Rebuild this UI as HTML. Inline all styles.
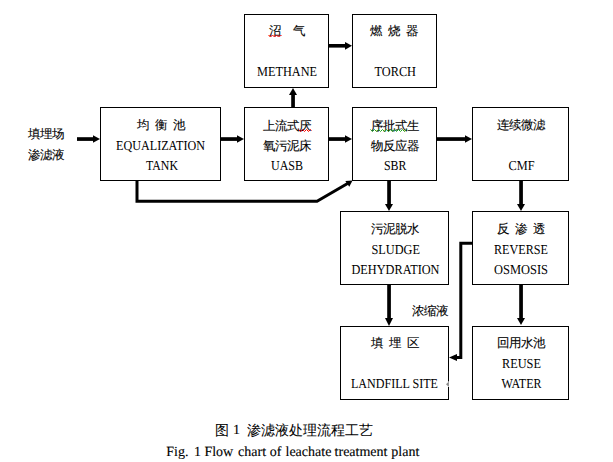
<!DOCTYPE html>
<html><head><meta charset="utf-8">
<style>
html,body{margin:0;padding:0;background:#fff;}
svg{display:block;}
text{font-family:"Liberation Serif",serif;fill:#000;}
.cj{font-size:12px;}
.en{font-size:12px;}
</style></head><body>
<svg width="613" height="462" viewBox="0 0 613 462">
<g fill="none" stroke="#000" stroke-width="1" shape-rendering="crispEdges">
<rect x="100.5" y="107.5" width="120" height="73"/>
<rect x="244.5" y="107.5" width="84" height="73"/>
<rect x="244.5" y="14.5" width="84" height="73"/>
<rect x="352.5" y="14.5" width="84" height="73"/>
<rect x="352.5" y="107.5" width="84" height="73"/>
<rect x="472.5" y="107.5" width="96" height="73"/>
<rect x="340.5" y="211.5" width="108" height="73"/>
<rect x="472.5" y="211.5" width="96" height="73"/>
<rect x="340.5" y="326.5" width="108" height="73"/>
<rect x="472.5" y="326.5" width="96" height="73"/>
</g>
<g fill="#000">
<!-- left -> EQ -->
<rect x="77" y="137.2" width="17" height="3.7"/><polygon points="93,135.2 100,139 93,142.8"/>
<!-- EQ -> UASB -->
<rect x="221" y="137.2" width="17" height="3.7"/><polygon points="237,135.2 244,139 237,142.8"/>
<!-- UASB -> METHANE -->
<rect x="291.2" y="94" width="3.7" height="13"/><polygon points="289,95 293,88 297,95"/>
<!-- UASB -> SBR -->
<rect x="329" y="137.2" width="17" height="3.7"/><polygon points="345,135.2 352,139 345,142.8"/>
<!-- METHANE -> TORCH -->
<rect x="329" y="44" width="17" height="3.6"/><polygon points="345,41.9 352,45.8 345,49.7"/>
<!-- SBR -> CMF -->
<rect x="437" y="137.2" width="29" height="3.7"/><polygon points="465,135.2 472,139 465,142.8"/>
<!-- SBR -> SLUDGE -->
<rect x="387.2" y="181" width="3.7" height="24"/><polygon points="385,204 389,211 393,204"/>
<!-- CMF -> RO -->
<rect x="519.2" y="181" width="3.7" height="24"/><polygon points="517,204 521,211 525,204"/>
<!-- SLUDGE -> LANDFILL -->
<rect x="387.2" y="285" width="3.7" height="34"/><polygon points="385,318 389,326 393,318"/>
<!-- RO -> REUSE -->
<rect x="519.2" y="285" width="3.7" height="34"/><polygon points="517,318 521,325 525,318"/>
<!-- C2 -->
<polygon points="449,357.5 457,354 457,361"/>
</g>
<g fill="none" stroke="#000" stroke-width="3" stroke-linejoin="miter">
<polyline points="137,181 137,201.2 317,201.2 348,183.2"/>
<polyline points="472,243.3 460.8,243.3 460.8,357.6 456,357.6"/>
</g>
<polygon fill="#000" points="352.5,180.4 345.3,181.0 349.3,186.8"/>

<!-- texts -->
<g font-size="12.5" letter-spacing="-0.5" stroke="#000" stroke-width="0.1" text-rendering="geometricPrecision">
<text x="28" y="138">填埋场</text>
<text x="28" y="158.5">渗滤液</text>
<text x="137" y="128.5">均</text><text x="155" y="128.5">衡</text><text x="173" y="128.5">池</text>
<text x="263" y="129.5">上流式厌</text>
<text x="263" y="149.5">氧污泥床</text>
<text x="269" y="34.5">沼</text><text x="293" y="34.5">气</text>
<text x="370" y="35">燃</text><text x="388" y="35">烧</text><text x="406" y="35">器</text>
<text x="371" y="129.5">序批式生</text>
<text x="371" y="149.5">物反应器</text>
<text x="497" y="128.5">连续微滤</text>
<text x="371" y="232.5">污泥脱水</text>
<text x="497" y="232.5">反</text><text x="515" y="232.5">渗</text><text x="533" y="232.5">透</text>
<text x="371" y="346.5">填</text><text x="389" y="346.5">埋</text><text x="407" y="346.5">区</text>
<text x="497" y="346.5">回用水池</text>
<text x="412" y="315">浓缩液</text>
</g>
<g font-size="13.6" text-rendering="geometricPrecision">
<text x="116" y="150" textLength="89" lengthAdjust="spacingAndGlyphs">EQUALIZATION</text>
<text x="146" y="170" textLength="32" lengthAdjust="spacingAndGlyphs">TANK</text>
<text x="271" y="170" textLength="32" lengthAdjust="spacingAndGlyphs">UASB</text>
<text x="257" y="76" textLength="60" lengthAdjust="spacingAndGlyphs">METHANE</text>
<text x="374.5" y="76" textLength="41.5" lengthAdjust="spacingAndGlyphs">TORCH</text>
<text x="384" y="170" textLength="22.5" lengthAdjust="spacingAndGlyphs">SBR</text>
<text x="508.5" y="170" textLength="26" lengthAdjust="spacingAndGlyphs">CMF</text>
<text x="371.5" y="254" textLength="48.5" lengthAdjust="spacingAndGlyphs">SLUDGE</text>
<text x="351.5" y="273.5" textLength="88" lengthAdjust="spacingAndGlyphs">DEHYDRATION</text>
<text x="494" y="254" textLength="54" lengthAdjust="spacingAndGlyphs">REVERSE</text>
<text x="494" y="274" textLength="54" lengthAdjust="spacingAndGlyphs">OSMOSIS</text>
<text x="351" y="388" textLength="87" lengthAdjust="spacingAndGlyphs">LANDFILL SITE</text>
<text x="502" y="367.5" textLength="39" lengthAdjust="spacingAndGlyphs">REUSE</text>
<text x="501.5" y="388" textLength="40" lengthAdjust="spacingAndGlyphs">WATER</text>
</g>
<g font-size="14" stroke="#000" stroke-width="0.05" text-rendering="geometricPrecision">
<text x="215" y="434.5" letter-spacing="-1">图</text>
<text x="233" y="434" stroke-width="0.12">1</text>
<text x="247" y="434.5" letter-spacing="0">渗滤液处理流程工艺</text>
<g stroke-width="0.12"><text x="166.3" y="456">Fig.</text><text x="194" y="456">1</text><text x="204.4" y="456">Flow</text><text x="238.1" y="456">chart</text><text x="269.8" y="456">of</text><text x="285.5" y="456">leachate</text><text x="334.6" y="456">treatment</text><text x="391.3" y="456">plant</text></g>
</g>
<rect x="447.5" y="381.5" width="1.5" height="5.5" fill="#fff"/>
<polygon fill="#8a8a8a" points="446,384.3 448.9,381.6 448.9,387"/>
<!-- squiggles -->
<g fill="none" stroke-width="1" stroke-linejoin="round">
<polyline stroke="#f00" points="268.5,35 270.5,37 272.5,35 274.5,37 276.5,35 278.5,37 280.5,35 281.5,36"/>
<polyline stroke="#f00" points="298.5,129.5 300.5,131.5 302.5,129.5 304.5,131.5 306.5,129.5 308.5,131.5 310.5,129.5 311.5,130.5"/>
<polyline stroke="#2a2" points="370.5,129.5 372.5,131.5 374.5,129.5 376.5,131.5 378.5,129.5 380.5,131.5 382.5,129.5 384.5,131.5 386.5,129.5 388.5,131.5 390.5,129.5 392.5,131.5 394.5,129.5 396.5,131.5 398.5,129.5 400.5,131.5 402.5,129.5 404.5,131.5 406.5,129.5"/>
</g>
</svg>
</body></html>
